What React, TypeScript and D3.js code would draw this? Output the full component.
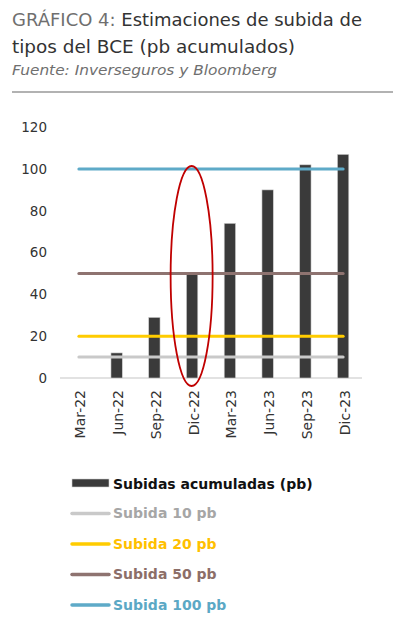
import React from 'react';
import * as d3 from 'd3';

const categories = ['Mar-22', 'Jun-22', 'Sep-22', 'Dic-22', 'Mar-23', 'Jun-23', 'Sep-23', 'Dic-23'];
const values = [0, 12, 29, 50, 74, 90, 102, 107];
const refValues = [10, 20, 50, 100];
const refNames = ['Subida 10 pb', 'Subida 20 pb', 'Subida 50 pb', 'Subida 100 pb'];
const refColors = ['#C9C9C9', '#FFCC00', '#8E7370', '#5EAAC8'];
const refTextColors = ['#A6A6A6', '#FFC000', '#8C6E68', '#5BA8C5'];
const yTicks = [0, 20, 40, 60, 80, 100, 120];
const barName = 'Subidas acumuladas (pb)';
const highlight = 'Dic-22';

const W = 399, H = 634;
const FONT = '"DejaVu Sans", sans-serif';

export default function App() {
  const y = d3.scaleLinear().domain([0, 120]).range([378, 127.2]);
  const x = d3.scalePoint<string>().domain(categories).range([60, 362]).padding(0.5);
  const step = x.step();
  const bw = step * 0.3;
  const x0 = x(categories[0])!;
  const x1 = x(categories[categories.length - 1])!;
  const hx = x(highlight)!;

  return (
    <svg width={W} height={H} style={{ position: 'absolute', left: 0, top: 0, background: '#fff' }} fontFamily={FONT}>
      <text x={12} y={26} fontSize={17} textLength={350} lengthAdjust="spacingAndGlyphs">
        <tspan fill="#6f6f6f">GRÁFICO 4: </tspan>
        <tspan fill="#333">Estimaciones de subida de</tspan>
      </text>
      <text x={12} y={53} fontSize={17} fill="#333" textLength={283} lengthAdjust="spacingAndGlyphs">tipos del BCE (pb acumulados)</text>
      <text x={12} y={75} fontSize={13.5} fill="#6f6f6f" fontStyle="italic" textLength={265} lengthAdjust="spacingAndGlyphs">Fuente: Inverseguros y Bloomberg</text>
      <line x1={12} x2={393} y1={92} y2={92} stroke="#999" strokeWidth={1.5} />

      {yTicks.map(t => (
        <text key={t} x={47} y={y(t)} dy="0.35em" textAnchor="end" fontSize={13.5} fill="#333">{t}</text>
      ))}
      <line x1={60} x2={362} y1={y(0)} y2={y(0)} stroke="#d9d9d9" strokeWidth={1.5} />

      {categories.map((c, i) => values[i] > 0 ? (
        <rect key={c} x={x(c)! - bw / 2} y={y(values[i])} width={bw} height={y(0) - y(values[i])}
          fill="#3a3a3a" stroke="#cfcfcf" strokeWidth={0.6} />
      ) : null)}

      {refValues.map((v, i) => (
        <line key={v} x1={x0} x2={x1} y1={y(v)} y2={y(v)} stroke={refColors[i]} strokeWidth={3} strokeLinecap="round" />
      ))}

      {categories.map(c => (
        <text key={c} transform={`translate(${x(c)! + 6.5},390) rotate(-90)`} textAnchor="end" fontSize={14} fill="#333">{c}</text>
      ))}

      <ellipse cx={hx - 0.5} cy={276} rx={21} ry={110} fill="none" stroke="#C00000" strokeWidth={1.8} />

      <rect x={72} y={479} width={37} height={8} fill="#3a3a3a" stroke="#cfcfcf" strokeWidth={0.6} />
      <text x={113} y={488.5} fontSize={14} fontWeight={600} fill="#111">{barName}</text>
      {refNames.map((n, i) => {
        const cy = 513.5 + i * 30.5;
        return (
          <g key={n}>
            <line x1={72} x2={109} y1={cy} y2={cy} stroke={refColors[i]} strokeWidth={3.5} strokeLinecap="round" />
            <text x={113} y={cy} dy="0.35em" fontSize={14} fontWeight={600} fill={refTextColors[i]}>{n}</text>
          </g>
        );
      })}
    </svg>
  );
}
